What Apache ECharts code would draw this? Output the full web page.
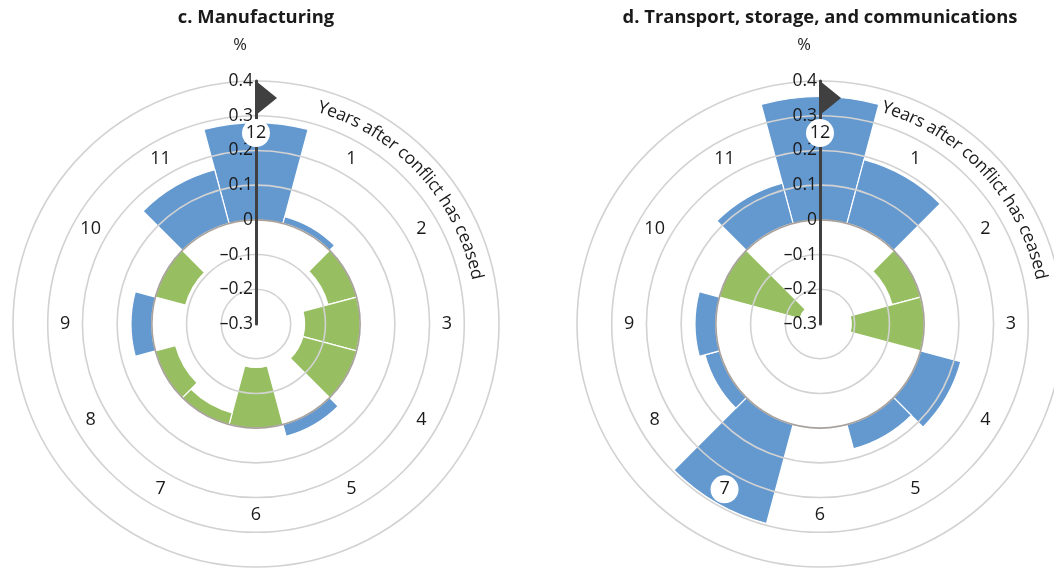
<!DOCTYPE html>
<html><head><meta charset="utf-8">
<script src="https://cdn.jsdelivr.net/npm/echarts@6/dist/echarts.min.js"></script>
<style>html,body{margin:0;padding:0;background:#fff}#c{width:1054px;height:569px}</style>
</head><body><div id="c"></div>
<script>
// ---------------- data ----------------
const categories = ['12', '1', '2', '3', '4', '5', '6', '7', '8', '9', '10', '11'];
const manufacturing = [0.28, 0.02, -0.085, -0.16, -0.16, 0.035, -0.175, -0.035, -0.06, 0.06, -0.09, 0.16];
const transport = [0.355, 0.19, -0.085, -0.21, 0.12, 0.072, 0, 0.295, 0.043, 0.06, -0.24, 0.12];
const panelTitles = ['c. Manufacturing', 'd. Transport, storage, and communications'];
const unitLabel = '%';
const arcLabel = 'Years after conflict has ceased';
const radiusMin = -0.3, radiusMax = 0.4, radiusStep = 0.1;

// ---------------- layout / style ----------------
const BLUE = '#6499d0', GREEN = '#97bf62';
const RING = '#d2d2d2', ZERO_RING = '#a8a19c', AXIS = '#404040', TEXT = '#1a1a1a';
const FONT = '"Open Sans", "Noto Sans", sans-serif';
const PANEL_CX = [256, 820], PANEL_CY = 324, PANEL_R = 243;
const LABEL_R = 0.25;      // radius value where year labels sit
const ARC_R = 0.35;        // radius value of curved caption
const ARC_START_DEG = 16;  // clockwise from top

const series = [manufacturing, transport];
const tickVals = [];
for (let k = 0; k <= Math.round((radiusMax - radiusMin) / radiusStep); k++) tickVals.push(radiusMin + k * radiusStep);
const ringColors = tickVals.map(v => Math.abs(v) < 1e-9 ? ZERO_RING : RING);
const fmt = v => { const r = Math.round(v * 10) / 10; if (r === 0) return '0'; return (r < 0 ? '\u2013' : '') + Math.abs(r).toFixed(1); };

const chart = echarts.init(document.getElementById('c'));
const nP = PANEL_CX.length;
const option = {
  backgroundColor: '#fff',
  animation: false,
  textStyle: { fontFamily: FONT },
  // polars 0..1: data panels; polars 2..3: full-circle ring grids
  polar: PANEL_CX.concat(PANEL_CX).map(cx => ({ center: [cx, PANEL_CY], radius: PANEL_R })),
  angleAxis: [],
  radiusAxis: [],
  series: []
};
PANEL_CX.forEach((cx, i) => {
  option.angleAxis.push({
    polarIndex: i, type: 'category', data: categories, startAngle: 90, clockwise: true,
    boundaryGap: false,
    axisLine: { show: false }, axisTick: { show: false }, axisLabel: { show: false },
    splitLine: { show: false }, splitArea: { show: false }
  });
  option.radiusAxis.push({
    polarIndex: i, type: 'value', min: radiusMin, max: radiusMax, interval: radiusStep, z: 4,
    axisLine: { show: true, lineStyle: { color: AXIS, width: 3 } },
    axisTick: { show: false },
    axisLabel: { formatter: fmt, fontSize: 17.5, color: TEXT, margin: 3, fontFamily: FONT },
    splitLine: { show: false }
  });
});
PANEL_CX.forEach((cx, i) => {
  option.angleAxis.push({
    polarIndex: nP + i, type: 'value', min: 0, max: 360, startAngle: 90,
    axisLine: { show: false }, axisTick: { show: false }, axisLabel: { show: false },
    splitLine: { show: false }, splitArea: { show: false }
  });
  option.radiusAxis.push({
    polarIndex: nP + i, type: 'value', min: radiusMin, max: radiusMax, interval: radiusStep, z: 3,
    axisLine: { show: false }, axisTick: { show: false }, axisLabel: { show: false },
    splitLine: { show: true, lineStyle: { color: ringColors, width: 1.6 } }
  });
});
series.forEach((vals, i) => {
  option.series.push({
    type: 'bar', coordinateSystem: 'polar', polarIndex: i, data: vals,
    barCategoryGap: '0%', z: 2, silent: true,
    itemStyle: { color: p => (p.value >= 0 ? BLUE : GREEN), borderColor: '#fff', borderWidth: 1.2 }
  });
  option.series.push({
    type: 'scatter', coordinateSystem: 'polar', polarIndex: i, z: 5, silent: true,
    data: categories.map((c, k) => [LABEL_R, k]),
    symbol: 'circle', symbolSize: 28, itemStyle: { color: '#fff', opacity: 1 },
    label: { show: true, position: 'inside', formatter: p => categories[p.dataIndex], color: TEXT, fontSize: 18, fontFamily: FONT }
  });
});
chart.setOption(option);

// ---------------- decorations (titles, flag, curved caption) ----------------
const ctx = document.createElement('canvas').getContext('2d');
const ARC_FONT_SIZE = 17.5;
ctx.font = ARC_FONT_SIZE + 'px ' + FONT;
const graphics = [];
PANEL_CX.forEach((cx, i) => {
  const top = chart.convertToPixel({ polarIndex: i }, [radiusMax, 0]);
  const ctr = chart.convertToPixel({ polarIndex: i }, [radiusMin, 0]);
  const arcPt = chart.convertToPixel({ polarIndex: i }, [ARC_R, 0]);
  const R = Math.hypot(arcPt[0] - ctr[0], arcPt[1] - ctr[1]);
  graphics.push({ type: 'text', x: ctr[0], y: 18, z: 10,
    style: { text: panelTitles[i], fontSize: 18.4, fontWeight: 'bold', fontFamily: FONT, fill: TEXT, align: 'center', verticalAlign: 'middle' } });
  graphics.push({ type: 'text', x: ctr[0] - 16, y: 45, z: 10,
    style: { text: unitLabel, fontSize: 16.5, fontFamily: FONT, fill: TEXT, align: 'center', verticalAlign: 'middle' } });
  graphics.push({ type: 'polygon', z: 10, silent: true,
    shape: { points: [[top[0], top[1]], [top[0], top[1] + 34], [top[0] + 21, top[1] + 17]] },
    style: { fill: AXIS } });
  let th = ARC_START_DEG * Math.PI / 180;
  for (const ch of arcLabel) {
    const w = ctx.measureText(ch).width;
    const tc = th + (w / 2) / R;
    graphics.push({ type: 'text', z: 10, silent: true,
      x: ctr[0] + R * Math.sin(tc), y: ctr[1] - R * Math.cos(tc), rotation: -tc,
      style: { text: ch, fontSize: ARC_FONT_SIZE, fontFamily: FONT, fill: TEXT, align: 'center', verticalAlign: 'middle' } });
    th += w / R;
  }
});
chart.setOption({ graphic: graphics });
</script></body></html>
